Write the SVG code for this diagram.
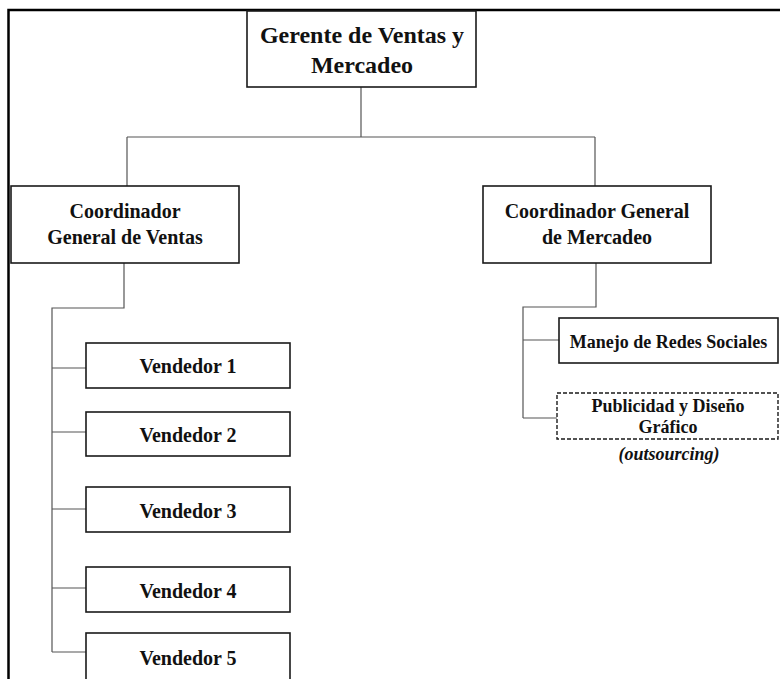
<svg xmlns="http://www.w3.org/2000/svg" width="780" height="679" viewBox="0 0 780 679">
  <style>
    .frame { fill: none; stroke: #000; stroke-width: 2.5; }
    .box { fill: #fff; stroke: #1a1a1a; stroke-width: 1.6; }
    .dash { fill: #fff; stroke: #1a1a1a; stroke-width: 1.4; stroke-dasharray: 4 2; }
    .link { fill: none; stroke: #555; stroke-width: 1.2; }
    text { font-family: "Liberation Serif", "Times New Roman", serif; font-weight: bold; fill: #111; text-anchor: middle; }
    .t24 { font-size: 24px; }
    .t20 { font-size: 20px; }
    .t18 { font-size: 18px; }
    .it { font-style: italic; }
  </style>

  <rect width="780" height="679" fill="#fff"/>
  <!-- outer frame, running off the right and bottom edges -->
  <rect class="frame" x="8.5" y="10" width="820" height="720"/>

  <g id="connectors">
    <path class="link" d="M361,87 V137 M127,137 H595 M127,137 V186 M595,137 V186"/>
    <path class="link" d="M124,263 V308 H52 V652 M52,368 H86 M52,432 H86 M52,509 H86 M52,588 H86 M52,652 H86"/>
    <path class="link" d="M596,263 V307 H523 V418 M523,340 H559 M523,418 H557"/>
  </g>

  <g id="gerente">
    <rect class="box" x="247" y="11" width="229" height="76"/>
    <text class="t24" x="362" y="43">Gerente de Ventas y</text>
    <text class="t24" x="362" y="73">Mercadeo</text>
  </g>

  <g id="coord-ventas">
    <rect class="box" x="11" y="186" width="228" height="77"/>
    <text class="t20" x="125" y="218">Coordinador</text>
    <text class="t20" x="125" y="244">General de Ventas</text>
  </g>

  <g id="coord-mercadeo">
    <rect class="box" x="483" y="186" width="228" height="77"/>
    <text class="t20" x="597" y="218">Coordinador General</text>
    <text class="t20" x="597" y="244">de Mercadeo</text>
  </g>

  <g id="vendedor-1">
    <rect class="box" x="86" y="343" width="204" height="45"/>
    <text class="t20" x="188" y="373">Vendedor 1</text>
  </g>
  <g id="vendedor-2">
    <rect class="box" x="86" y="412" width="204" height="44"/>
    <text class="t20" x="188" y="442">Vendedor 2</text>
  </g>
  <g id="vendedor-3">
    <rect class="box" x="86" y="487" width="204" height="45"/>
    <text class="t20" x="188" y="518">Vendedor 3</text>
  </g>
  <g id="vendedor-4">
    <rect class="box" x="86" y="567" width="204" height="45"/>
    <text class="t20" x="188" y="598">Vendedor 4</text>
  </g>
  <g id="vendedor-5">
    <rect class="box" x="86" y="633" width="204" height="60"/>
    <text class="t20" x="188" y="665">Vendedor 5</text>
  </g>

  <g id="redes-sociales">
    <rect class="box" x="559" y="318" width="219" height="45"/>
    <text class="t18" x="668.5" y="348">Manejo de Redes Sociales</text>
  </g>

  <g id="publicidad">
    <rect class="dash" x="557" y="393" width="221" height="46"/>
    <text class="t18" x="668" y="412">Publicidad y Diseño</text>
    <text class="t18" x="668" y="433">Gráfico</text>
    <text class="t18 it" x="669" y="460">(outsourcing)</text>
  </g>
</svg>
